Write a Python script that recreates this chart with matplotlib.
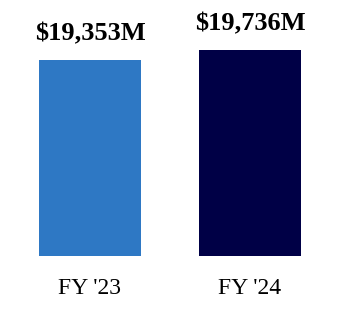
import matplotlib
matplotlib.use("Agg")
import matplotlib.pyplot as plt

categories = ["FY '23", "FY '24"]
values = [19353, 19736]
value_labels = ["$19,353M", "$19,736M"]
colors = ["#2E78C4", "#000046"]

fig = plt.figure(figsize=(3.4, 3.1), dpi=100)
ax = fig.add_axes([0, 54 / 310, 1, 256 / 310])
x = list(range(len(categories)))
bars = ax.bar(x, values, width=0.6375, color=colors)
ax.set_xlim(-0.5625, 1.5625)
ax.set_ylim(11846, 21651)
for b, lab in zip(bars, value_labels):
    ax.annotate(lab, (b.get_x() + b.get_width() / 2, b.get_height()),
                xytext=(0, 20), textcoords="offset pixels", ha="center", va="baseline",
                fontsize=19, fontweight="bold", family="Liberation Serif")
ax.set_xticks(x)
ax.set_xticklabels(categories, fontsize=17, family="Liberation Serif")
ax.tick_params(axis="x", length=0, pad=16)
ax.set_yticks([])
for s in ax.spines.values():
    s.set_visible(False)
fig.savefig("out.png", dpi=100)
